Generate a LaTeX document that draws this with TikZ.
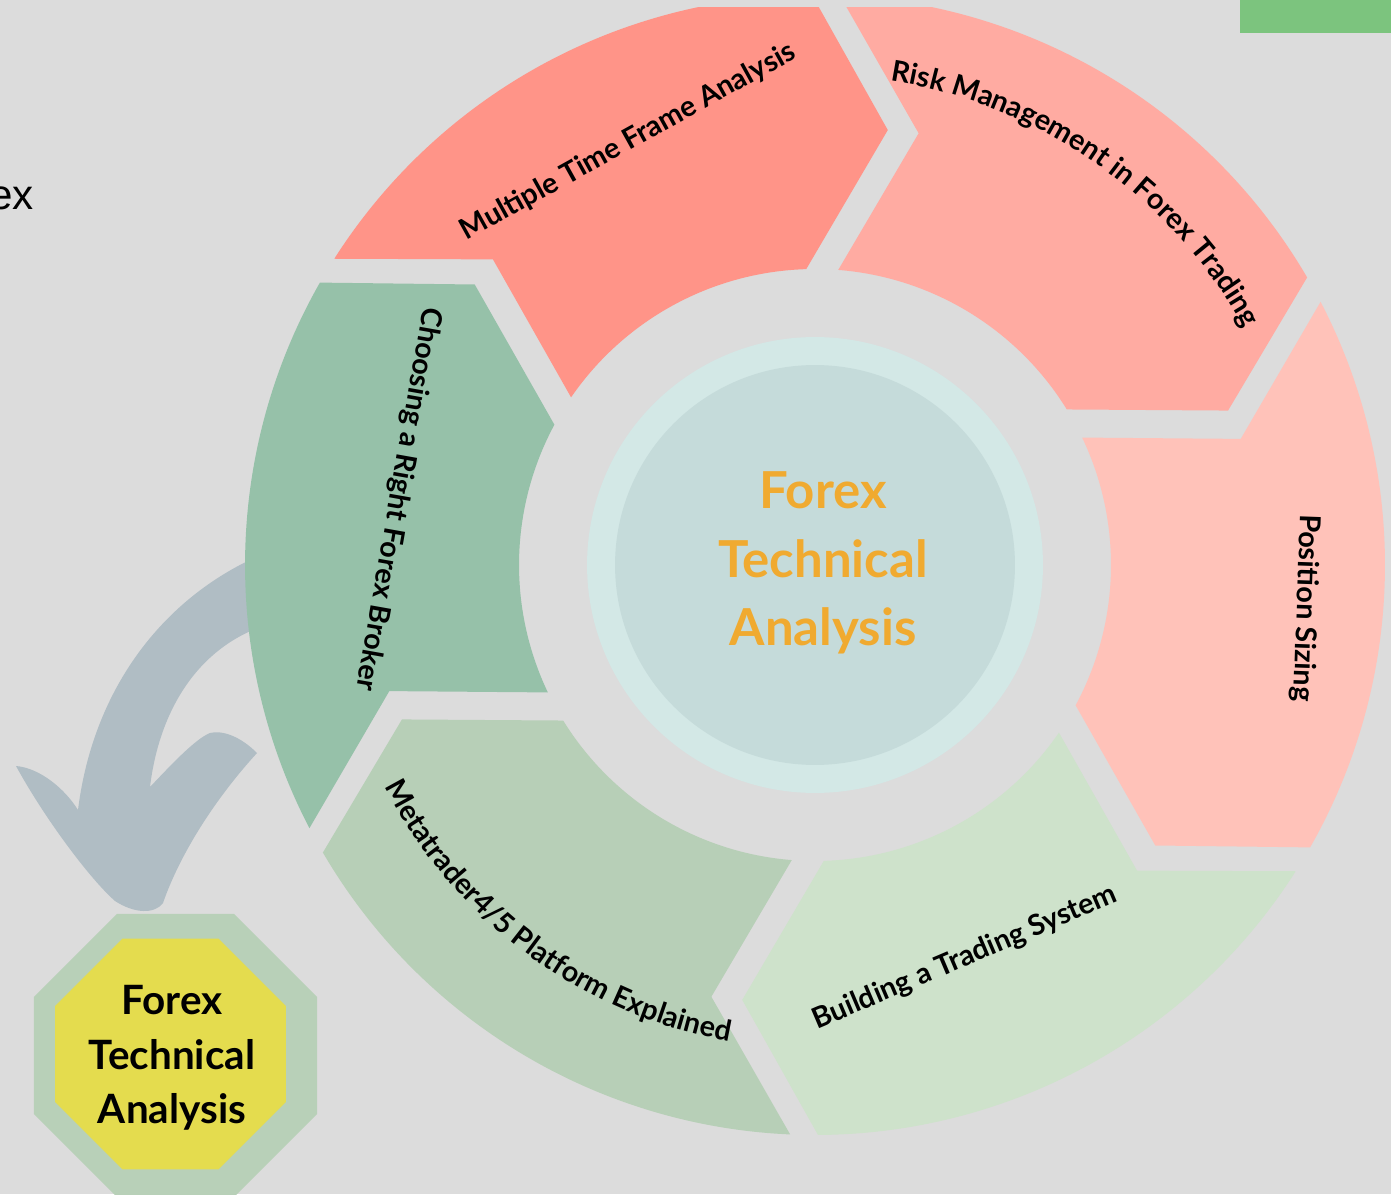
\documentclass[tikz,border=0pt]{standalone}
\usepackage{fontspec}
\usepackage{xcolor}
\usepackage{tikz}
\usetikzlibrary{shapes.geometric,decorations.text}
\setmainfont{Lato}
\newfontfamily\exfont{Liberation Sans}

\definecolor{bggray}{HTML}{DCDCDC}
\definecolor{mtfred}{HTML}{FF9488}
\definecolor{riskred}{HTML}{FFABA2}
\definecolor{possalmon}{HTML}{FFC2B9}
\definecolor{buildgreen}{HTML}{CEE2CB}
\definecolor{metagreen}{HTML}{B7CFB7}
\definecolor{brokergreen}{HTML}{96C1A9}
\definecolor{hubring}{HTML}{D3E8E6}
\definecolor{hubfill}{HTML}{C5DBDA}
\definecolor{huborange}{HTML}{F0AA30}
\definecolor{arrowgray}{HTML}{B0BDC4}
\definecolor{octgreen}{HTML}{B8D0B8}
\definecolor{octyellow}{HTML}{E4DC4E}
\definecolor{topgreen}{HTML}{7CC47E}

\newcommand{\segfont}{\bfseries\fontsize{16.4}{19}\selectfont}
\newcommand{\ringseg}[2]{%
  \fill[#1] ({#2+1}:570) -- ({#2-10}:444) -- ({#2-1}:296)
    arc[start angle={#2-1}, end angle={#2-54.8}, radius=296]
    -- ({#2-66}:441) -- ({#2-56.2}:570)
    arc[start angle={#2-56.2}, end angle={#2+1}, radius=570] -- cycle;}

\begin{document}
\begin{tikzpicture}[x=0.02cm, y=0.02cm,
    seglabel/.style={font=\segfont, inner sep=0pt},
    octagon/.style={regular polygon, regular polygon sides=8, inner sep=0pt}]
\useasboundingbox (0,0) rectangle (1391,1194);
\fill[bggray] (0,0) rectangle (1391,1194);

\node [anchor=base east, font=\exfont\fontsize{24}{28}\selectfont, inner sep=0pt] (extext) at (34,984) {ex};
\fill[topgreen] (1240,1161) rectangle (1391,1194);

\fill[arrowgray] (290,650) .. controls (180,615) and (95,520) .. (78,384)
  .. controls (65,405) and (40,426) .. (16,428)
  .. controls (45,375) and (90,315) .. (115,293)
  .. controls (135,280) and (155,280) .. (163,291)
  .. controls (180,340) and (215,395) .. (257,441)
  .. controls (240,458) and (222,464) .. (210,461)
  .. controls (195,455) and (170,428) .. (150,407)
  .. controls (160,490) and (205,560) .. (290,575) -- cycle;

\begin{scope}
\clip (0,0) rectangle (1391,1186);
\begin{scope}[shift={(815,629)}]
\ringseg{mtfred}{146.5}
\ringseg{riskred}{86.5}
\ringseg{possalmon}{26.5}
\ringseg{buildgreen}{-33.5}
\ringseg{metagreen}{-93.5}
\ringseg{brokergreen}{206.5}
\end{scope}
\end{scope}

\begin{scope}[shift={(815,629)}]
\node [circle, fill=hubring, minimum size=9.12cm, inner sep=0pt] (hubring) at (0,0) {};
\node [circle, fill=hubfill, minimum size=8cm, inner sep=0pt] (hub) at (0,0) {};
\node [align=center, text=huborange, font=\bfseries\fontsize{29}{39}\selectfont] (hubtext) at (8,2) {Forex\\Technical\\Analysis};

\node [seglabel, rotate=29] (mtf) at (-187,423) {Multiple Time Frame Analysis};
\path[decorate, decoration={text along path, text align=center,
    text={|\segfont|Risk Management in Forex Trading}}]
  (100:490) arc[start angle=100, end angle=10, radius=490];
\node [seglabel, rotate=-92] (possize) at (490,-43) {Position Sizing};
\node [seglabel, rotate=23] (build) at (150,-393) {Building a Trading System};
\path[decorate, decoration={text along path, text align=center,
    text={|\segfont|Metatrader4/5 Platform Explained}}]
  (188.5:484) arc[start angle=188.5, end angle=278.5, radius=484];
\node [seglabel, rotate=-100] (broker) at (-417,66) {Choosing a Right Forex Broker};
\end{scope}

\node [octagon, fill=octgreen, minimum size=6.13cm] (octout) at (175.5,138.5) {};
\node [octagon, fill=octyellow, minimum size=5cm] (octin) at (170.5,140) {};
\node [align=center, font=\bfseries\fontsize{23}{31}\selectfont] (octtext) at (172,136) {Forex\\Technical\\Analysis};

\end{tikzpicture}
\end{document}
